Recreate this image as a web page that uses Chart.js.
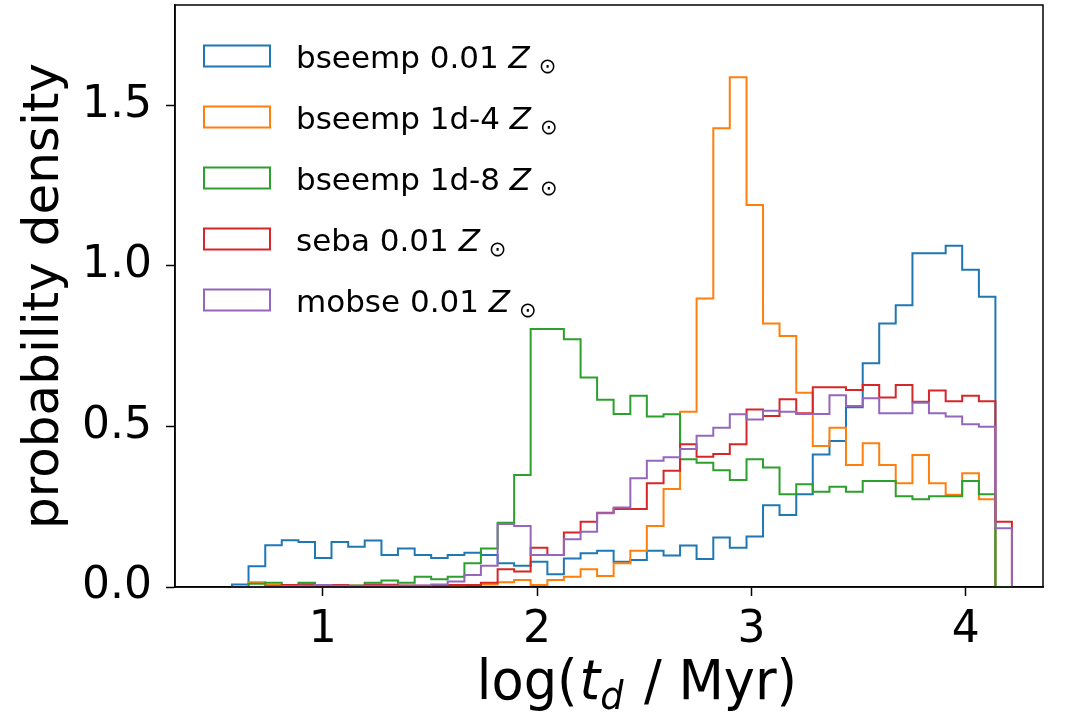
<!DOCTYPE html>
<html>
<head>
<meta charset="utf-8">
<script src="https://cdn.jsdelivr.net/npm/chart.js@4/dist/chart.umd.min.js"></script>
<style>
  body { margin: 0; background: #fff; }
  #wrap { width: 1076px; height: 721px; }
</style>
</head>
<body>
<div id="wrap"><canvas id="hist-chart" width="1076" height="721"></canvas></div>
<script>
// shared bin edges, log(t_d / Myr)
const binEdges = [0.577, 0.654, 0.732, 0.809, 0.887, 0.964, 1.041, 1.119, 1.196, 1.274,
  1.351, 1.429, 1.506, 1.583, 1.661, 1.738, 1.816, 1.893, 1.970, 2.048,
  2.125, 2.203, 2.280, 2.357, 2.435, 2.512, 2.590, 2.667, 2.744, 2.822,
  2.899, 2.977, 3.054, 3.131, 3.209, 3.286, 3.364, 3.441, 3.519, 3.596,
  3.673, 3.751, 3.828, 3.906, 3.983, 4.061, 4.138, 4.215];

const seriesLabels = ['bseemp 0.01', 'bseemp 1d-4', 'bseemp 1d-8', 'seba 0.01', 'mobse 0.01'];
const seriesColors = ['#1f77b4', '#ff7f0e', '#2ca02c', '#d62728', '#9467bd'];

// probability density per bin
const bseemp001 = [0.008, 0.065, 0.13, 0.146, 0.14, 0.09, 0.14, 0.125, 0.145, 0.1,
  0.12, 0.1, 0.09, 0.1, 0.107, 0.1, 0.074, 0.066, 0.079, 0.04,
  0.089, 0.105, 0.113, 0.079, 0.084, 0.113, 0.098, 0.129, 0.087, 0.154,
  0.122, 0.157, 0.255, 0.224, 0.289, 0.413, 0.455, 0.56, 0.697, 0.821,
  0.878, 1.04, 1.04, 1.063, 0.988, 0.904, 0];
const bseemp1d4 = [0, 0.015, 0.006, 0.004, 0.003, 0.003, 0.002, 0.002, 0.003, 0.002,
  0.002, 0.003, 0.002, 0.003, 0.005, 0.008, 0.015, 0.022, 0.006, 0.022,
  0.032, 0.055, 0.034, 0.074, 0.113, 0.19, 0.305, 0.546, 0.899, 1.429,
  1.588, 1.19, 0.821, 0.782, 0.605, 0.439, 0.496, 0.38, 0.448, 0.38,
  0.323, 0.411, 0.323, 0.287, 0.354, 0.273, 0];
const bseemp1d8 = [0, 0.01, 0.013, 0.003, 0.013, 0.003, 0.003, 0.005, 0.013, 0.02,
  0.013, 0.032, 0.024, 0.032, 0.074, 0.12, 0.2, 0.349, 0.804, 0.804,
  0.772, 0.653, 0.583, 0.539, 0.596, 0.531, 0.538, 0.398, 0.387, 0.364,
  0.333, 0.398, 0.372, 0.289, 0.32, 0.297, 0.312, 0.297, 0.33, 0.33,
  0.283, 0.273, 0.283, 0.283, 0.33, 0.289, 0];
const seba001 = [0, 0, 0.003, 0.006, 0.008, 0.004, 0.006, 0.004, 0.007, 0.007,
  0.005, 0.004, 0.004, 0.006, 0.006, 0.013, 0.055, 0.048, 0.122, 0.1,
  0.17, 0.203, 0.231, 0.243, 0.243, 0.323, 0.362, 0.445, 0.406, 0.414,
  0.445, 0.553, 0.533, 0.585, 0.541, 0.622, 0.622, 0.614, 0.629, 0.59,
  0.629, 0.577, 0.612, 0.579, 0.596, 0.579, 0.203];
const mobse001 = [0, 0, 0.002, 0.003, 0.004, 0.006, 0.004, 0.003, 0.004, 0.004,
  0.004, 0.005, 0.008, 0.017, 0.037, 0.066, 0.196, 0.19, 0.1, 0.1,
  0.149, 0.172, 0.23, 0.248, 0.339, 0.393, 0.404, 0.43, 0.471, 0.496,
  0.538, 0.522, 0.549, 0.546, 0.539, 0.539, 0.597, 0.564, 0.588, 0.541,
  0.541, 0.574, 0.541, 0.531, 0.507, 0.499, 0.183];

const xTicks = [1, 2, 3, 4];
const yTicks = [0, 0.5, 1.0, 1.5];

const FONT = '"DejaVu Sans"';

// outline of a step histogram: up from 0 at the first edge, down to 0 at the last
function stepPoints(values) {
  const pts = [{ x: binEdges[0], y: 0 }];
  values.forEach((v, i) => pts.push({ x: binEdges[i], y: v }));
  pts.push({ x: binEdges[binEdges.length - 1], y: 0 });
  return pts;
}

const allSeries = [bseemp001, bseemp1d4, bseemp1d8, seba001, mobse001];

const datasets = allSeries.map((vals, i) => ({
  label: seriesLabels[i],
  data: stepPoints(vals),
  borderColor: seriesColors[i],
  borderWidth: 2,
  pointRadius: 0,
  fill: false,
  stepped: 'before',
  order: allSeries.length - i
}));

const mplExtras = {
  id: 'mplExtras',
  afterDraw(chart) {
    const ctx = chart.ctx;
    const a = chart.chartArea;
    ctx.save();

    // full box
    ctx.strokeStyle = '#000';
    ctx.lineWidth = 1.5;
    ctx.strokeRect(a.left, a.top, a.right - a.left, a.bottom - a.top);

    // legend
    chart.data.datasets.forEach((ds, i) => {
      const cy = a.top + 51 + i * 61;
      ctx.strokeStyle = ds.borderColor;
      ctx.lineWidth = 2;
      ctx.strokeRect(a.left + 29, cy - 10.5, 66, 21);
      ctx.fillStyle = '#000';
      ctx.textBaseline = 'alphabetic';
      ctx.textAlign = 'left';
      const base = cy + 12;
      let x = a.left + 121;
      ctx.font = '31px ' + FONT;
      ctx.fillText(ds.label + ' ', x, base);
      x += ctx.measureText(ds.label + ' ').width;
      ctx.font = 'italic 31px ' + FONT;
      ctx.fillText('Z', x, base);
      x += ctx.measureText('Z').width + 9;
      ctx.font = '21px ' + FONT;
      ctx.fillText('\u2299', x, base + 5);
    });

    // x axis title: log(t_d / Myr), slightly condensed like the original
    const parts = [
      { t: 'log(', f: '56px ' + FONT, dy: 0, gap: 2 },
      { t: 't', f: 'italic 56px ' + FONT, dy: 0, gap: 0 },
      { t: 'd', f: 'italic 39px ' + FONT, dy: 10, gap: 4 },
      { t: ' / Myr)', f: '56px ' + FONT, dy: 0, gap: 0 }
    ];
    const sx = 0.94;
    let total = 0;
    parts.forEach(p => { ctx.font = p.f; p.w = ctx.measureText(p.t).width; total += p.w + p.gap; });
    const cx = (a.left + a.right) / 2 + 28;
    ctx.translate(cx - total * sx / 2, 699);
    ctx.scale(sx, 1);
    let x = 0;
    ctx.fillStyle = '#000';
    ctx.textBaseline = 'alphabetic';
    parts.forEach(p => {
      ctx.font = p.f;
      ctx.fillText(p.t, x, p.dy);
      x += p.w + p.gap;
    });
    ctx.restore();
  }
};

new Chart(document.getElementById('hist-chart'), {
  type: 'line',
  data: { datasets },
  options: {
    responsive: false,
    animation: false,
    layout: { padding: { left: 0, top: 5, right: 33, bottom: 0 } },
    plugins: {
      legend: { display: false },
      tooltip: { enabled: false }
    },
    scales: {
      x: {
        type: 'linear',
        min: 0.311,
        max: 4.36,
        afterBuildTicks: s => { s.ticks = xTicks.map(v => ({ value: v })); },
        afterFit: s => { s.height = 134; s.paddingLeft = 0; s.paddingRight = 0; },
        grid: { drawOnChartArea: false, drawTicks: true, tickLength: 9, tickColor: '#000', tickWidth: 1.5 },
        border: { display: true, color: '#000', width: 1.5 },
        ticks: {
          color: '#000',
          padding: 8,
          maxRotation: 0,
          font: { family: 'DejaVu Sans', size: 44 },
          callback: v => String(v)
        }
      },
      y: {
        type: 'linear',
        min: 0,
        max: 1.813,
        afterBuildTicks: s => { s.ticks = yTicks.map(v => ({ value: v })); },
        afterFit: s => { s.width = 175; s.paddingTop = 0; s.paddingBottom = 0; },
        grid: { drawOnChartArea: false, drawTicks: true, tickLength: 9, tickColor: '#000', tickWidth: 1.5 },
        border: { display: true, color: '#000', width: 1.5 },
        title: {
          display: true,
          text: 'probability density',
          color: '#000',
          font: { family: 'DejaVu Sans', size: 50, lineHeight: 1 },
          padding: { top: 20, bottom: 0 }
        },
        ticks: {
          color: '#000',
          padding: 14,
          font: { family: 'DejaVu Sans', size: 44 },
          callback: v => v.toFixed(1)
        }
      }
    }
  },
  plugins: [mplExtras]
});
</script>
</body>
</html>
